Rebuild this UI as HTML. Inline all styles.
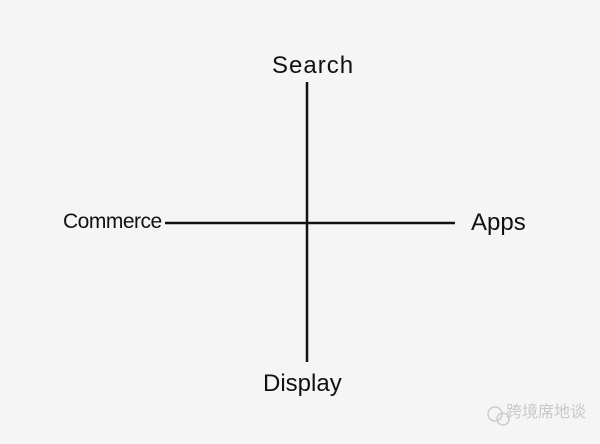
<!DOCTYPE html>
<html><head><style>
body{margin:0;width:600px;height:444px;background:#f5f5f5;position:relative;overflow:hidden;font-family:"Liberation Sans",sans-serif;}
.t{position:absolute;font-size:24px;color:#111;line-height:1;white-space:nowrap;}
</style></head><body>
<svg width="600" height="444" style="position:absolute;left:0;top:0">
<line x1="307" y1="82" x2="307" y2="362" stroke="#111" stroke-width="2.5"/>
<line x1="165" y1="223" x2="455" y2="223" stroke="#111" stroke-width="2.5"/>
<circle cx="495" cy="414" r="7" fill="none" stroke="#ccc" stroke-width="1.5"/>
<circle cx="503" cy="419" r="6" fill="none" stroke="#ccc" stroke-width="1.5"/>
</svg>
<div class="t" style="left:272px;top:54px;letter-spacing:1px">Search</div>
<div class="t" style="left:63px;top:211px;font-size:21px;letter-spacing:-0.5px">Commerce</div>
<div class="t" style="left:471px;top:211px">Apps</div>
<div class="t" style="left:263px;top:372px">Display</div>
<div class="t" style="left:506px;top:405px;font-size:16px;color:#c8c8c8;font-family:'Liberation Sans','Noto Sans CJK SC',sans-serif">跨境席地谈</div>
</body></html>
